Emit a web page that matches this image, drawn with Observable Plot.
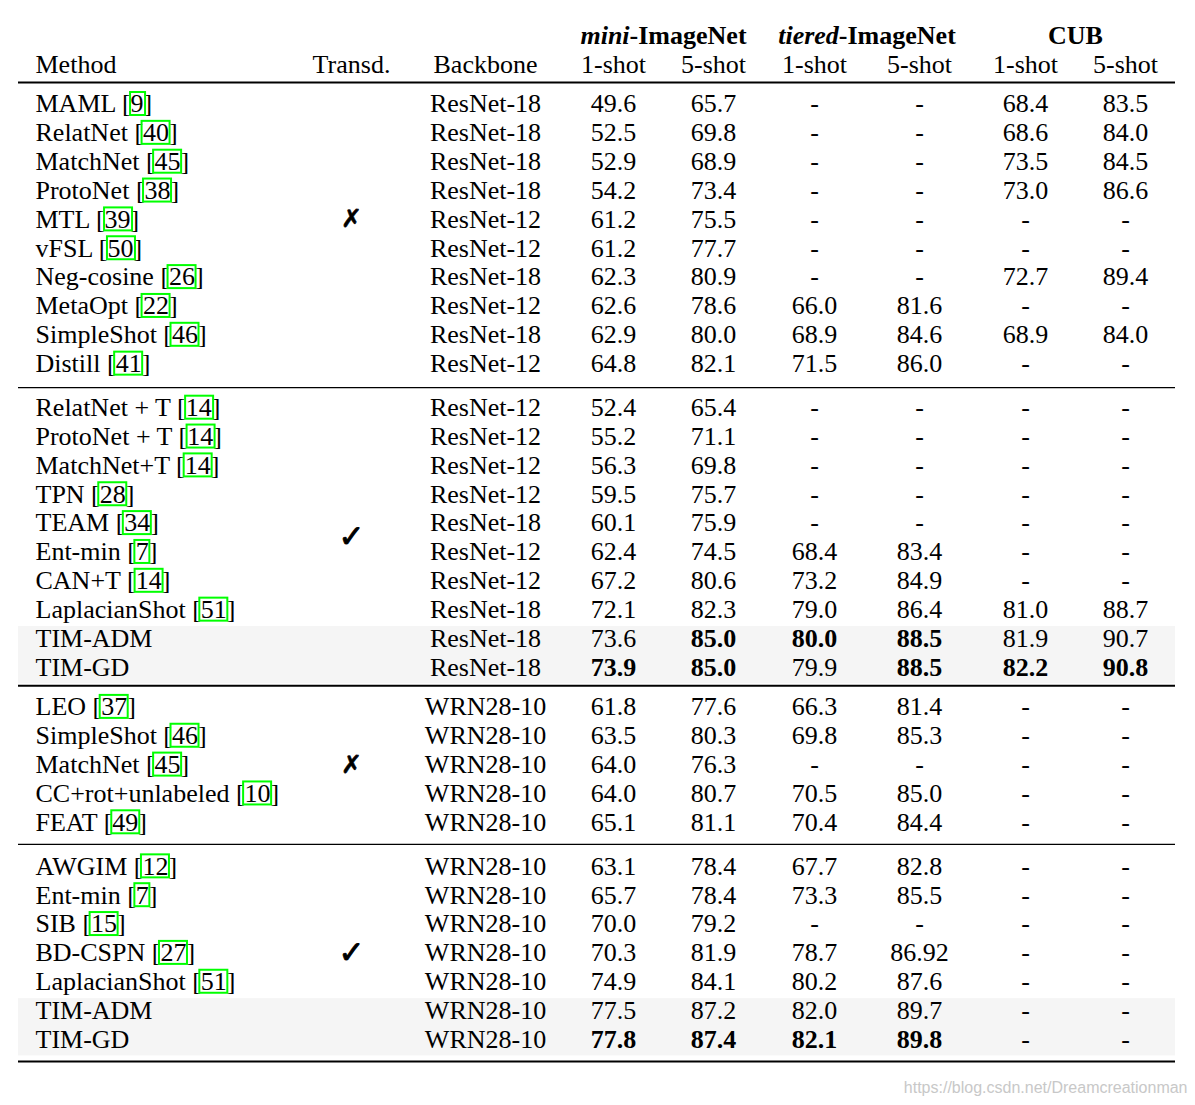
<!DOCTYPE html>
<html><head><meta charset="utf-8">
<script src="https://cdn.jsdelivr.net/npm/d3@7"></script>
<script src="https://cdn.jsdelivr.net/npm/@observablehq/plot@0.6"></script>
<style>body{margin:0;background:#fff}#chart{width:1195px;height:1105px}</style>
</head><body><div id="chart"></div>
<script>
// ---------------- data ----------------
const columns = ["mini1", "mini5", "tiered1", "tiered5", "cub1", "cub5"];
const shotLabels = ["1-shot", "5-shot", "1-shot", "5-shot", "1-shot", "5-shot"];
const datasetLabels = [
  {italic: "mini", rest: "-ImageNet"},
  {italic: "tiered", rest: "-ImageNet"},
  {italic: "", rest: "CUB"}
];

// Section 1: ResNet, inductive
const s1Methods = ["MAML", "RelatNet", "MatchNet", "ProtoNet", "MTL", "vFSL", "Neg-cosine", "MetaOpt", "SimpleShot", "Distill"];
const s1Cites = [9, 40, 45, 38, 39, 50, 26, 22, 46, 41];
const s1Backbones = ["ResNet-18", "ResNet-18", "ResNet-18", "ResNet-18", "ResNet-12", "ResNet-12", "ResNet-18", "ResNet-12", "ResNet-18", "ResNet-12"];
const s1Mini1 = [49.6, 52.5, 52.9, 54.2, 61.2, 61.2, 62.3, 62.6, 62.9, 64.8];
const s1Mini5 = [65.7, 69.8, 68.9, 73.4, 75.5, 77.7, 80.9, 78.6, 80.0, 82.1];
const s1Tiered1 = [null, null, null, null, null, null, null, 66.0, 68.9, 71.5];
const s1Tiered5 = [null, null, null, null, null, null, null, 81.6, 84.6, 86.0];
const s1Cub1 = [68.4, 68.6, 73.5, 73.0, null, null, 72.7, null, 68.9, null];
const s1Cub5 = [83.5, 84.0, 84.5, 86.6, null, null, 89.4, null, 84.0, null];

// Section 2: ResNet, transductive
const s2Methods = ["RelatNet + T", "ProtoNet + T", "MatchNet+T", "TPN", "TEAM", "Ent-min", "CAN+T", "LaplacianShot", "TIM-ADM", "TIM-GD"];
const s2Cites = [14, 14, 14, 28, 34, 7, 14, 51, null, null];
const s2Backbones = ["ResNet-12", "ResNet-12", "ResNet-12", "ResNet-12", "ResNet-18", "ResNet-12", "ResNet-12", "ResNet-18", "ResNet-18", "ResNet-18"];
const s2Mini1 = [52.4, 55.2, 56.3, 59.5, 60.1, 62.4, 67.2, 72.1, 73.6, 73.9];
const s2Mini5 = [65.4, 71.1, 69.8, 75.7, 75.9, 74.5, 80.6, 82.3, 85.0, 85.0];
const s2Tiered1 = [null, null, null, null, null, 68.4, 73.2, 79.0, 80.0, 79.9];
const s2Tiered5 = [null, null, null, null, null, 83.4, 84.9, 86.4, 88.5, 88.5];
const s2Cub1 = [null, null, null, null, null, null, null, 81.0, 81.9, 82.2];
const s2Cub5 = [null, null, null, null, null, null, null, 88.7, 90.7, 90.8];

// Section 3: WRN28-10, inductive
const s3Methods = ["LEO", "SimpleShot", "MatchNet", "CC+rot+unlabeled", "FEAT"];
const s3Cites = [37, 46, 45, 10, 49];
const s3Backbones = ["WRN28-10", "WRN28-10", "WRN28-10", "WRN28-10", "WRN28-10"];
const s3Mini1 = [61.8, 63.5, 64.0, 64.0, 65.1];
const s3Mini5 = [77.6, 80.3, 76.3, 80.7, 81.1];
const s3Tiered1 = [66.3, 69.8, null, 70.5, 70.4];
const s3Tiered5 = [81.4, 85.3, null, 85.0, 84.4];
const s3Cub1 = [null, null, null, null, null];
const s3Cub5 = [null, null, null, null, null];

// Section 4: WRN28-10, transductive
const s4Methods = ["AWGIM", "Ent-min", "SIB", "BD-CSPN", "LaplacianShot", "TIM-ADM", "TIM-GD"];
const s4Cites = [12, 7, 15, 27, 51, null, null];
const s4Backbones = ["WRN28-10", "WRN28-10", "WRN28-10", "WRN28-10", "WRN28-10", "WRN28-10", "WRN28-10"];
const s4Mini1 = [63.1, 65.7, 70.0, 70.3, 74.9, 77.5, 77.8];
const s4Mini5 = [78.4, 78.4, 79.2, 81.9, 84.1, 87.2, 87.4];
const s4Tiered1 = [67.7, 73.3, null, 78.7, 80.2, 82.0, 82.1];
const s4Tiered5 = [82.8, 85.5, null, 86.92, 87.6, 89.7, 89.8];
const s4Cub1 = [null, null, null, null, null, null, null];
const s4Cub5 = [null, null, null, null, null, null, null];

const sectionTransductive = [false, true, false, true];
const sectionBackboneFamily = ["ResNet", "ResNet", "WRN", "WRN"];
const oursMethods = ["TIM-ADM", "TIM-GD"];
const watermark = "https://blog.csdn.net/Dreamcreationman";

// ---------------- layout ----------------
const W = 1195, H = 1105;
const FONT = "'Liberation Serif', 'Times New Roman', Times, serif";
const FS = 26;
const colX = {method: 35, transd: 351, backbone: 485, mini1: 613, mini5: 713, tiered1: 814, tiered5: 919, cub1: 1025, cub5: 1125};
const tableX1 = 18, tableX2 = 1175;
const headerY1 = 35, headerY2 = 64, topRuleY = 82;
const firstRowY = 103.5, rowStep = 28.85;
const extraGapBefore = [0, 15.2, 10.7, 15.2];
const ruleOffsetAfter = [24, 18.5, 22, 22];
const ruleWidthAfter = [1.3, 2, 1.3, 2];
const markRowInSection = [4, 4.5, 2, 3];

const sections = [
  {methods: s1Methods, cites: s1Cites, backbones: s1Backbones, vals: [s1Mini1, s1Mini5, s1Tiered1, s1Tiered5, s1Cub1, s1Cub5]},
  {methods: s2Methods, cites: s2Cites, backbones: s2Backbones, vals: [s2Mini1, s2Mini5, s2Tiered1, s2Tiered5, s2Cub1, s2Cub5]},
  {methods: s3Methods, cites: s3Cites, backbones: s3Backbones, vals: [s3Mini1, s3Mini5, s3Tiered1, s3Tiered5, s3Cub1, s3Cub5]},
  {methods: s4Methods, cites: s4Cites, backbones: s4Backbones, vals: [s4Mini1, s4Mini5, s4Tiered1, s4Tiered5, s4Cub1, s4Cub5]}
];

// text measurement
const ctx = document.createElement("canvas").getContext("2d");
function tw(str, weight = "normal", style = "normal", size = FS) {
  ctx.font = `${style} ${weight} ${size}px ${FONT}`;
  return ctx.measureText(str).width;
}

// build rows
const rows = [];
const rules = [{y: topRuleY, w: 2}];
const transdMarks = [];
let g = 0, extra = 0;
sections.forEach((s, si) => {
  extra += extraGapBefore[si];
  const startIdx = g;
  s.methods.forEach((m, i) => {
    const y = firstRowY + g * rowStep + extra;
    const r = {section: si, i, method: m, cite: s.cites[i], backbone: s.backbones[i], y, ours: oursMethods.includes(m)};
    columns.forEach((c, ci) => r[c] = s.vals[ci][i]);
    rows.push(r);
    g++;
  });
  const lastY = rows[rows.length - 1].y;
  rules.push({y: lastY + ruleOffsetAfter[si], w: ruleWidthAfter[si]});
  transdMarks.push({y: firstRowY + (startIdx + markRowInSection[si]) * rowStep + extra, t: sectionTransductive[si]});
});

// bold = best value of the column within same backbone family
const best = {};
for (const fam of ["ResNet", "WRN"]) {
  const rs = rows.filter(r => sectionBackboneFamily[r.section] === fam);
  best[fam] = {};
  columns.forEach(c => best[fam][c] = d3.max(rs, r => r[c]));
}
const fmt = v => v == null ? "-" : (Math.round(v * 10) === v * 10 ? v.toFixed(1) : String(v));
const cells = [];
rows.forEach(r => columns.forEach(c => {
  const v = r[c];
  cells.push({x: colX[c], y: r.y, text: fmt(v), bold: v != null && v === best[sectionBackboneFamily[r.section]][c]});
}));

// shaded blocks for "ours"
const shades = [];
d3.group(rows.filter(r => r.ours), r => r.section).forEach(rs => {
  shades.push({y1: d3.min(rs, r => r.y) - 12, y2: d3.max(rs, r => r.y) + 16.5});
});

// citation boxes
const citeRows = rows.filter(r => r.cite != null);
const boxes = citeRows.map(r => {
  const pre = tw(`${r.method} [`);
  const num = tw(String(r.cite));
  return {x1: colX.method + pre - 1, x2: colX.method + pre + num + 1, y1: r.y - 11.5, y2: r.y + 11.5};
});

// header dataset labels
const groupHeads = [];
datasetLabels.forEach((d, i) => {
  const cx = (colX[columns[2 * i]] + colX[columns[2 * i + 1]]) / 2;
  const wi = d.italic ? tw(d.italic, "bold", "italic") : 0;
  const wr = tw(d.rest, "bold");
  const start = cx - (wi + wr) / 2;
  if (d.italic) groupHeads.push({x: start, text: d.italic, italic: true});
  groupHeads.push({x: start + wi, text: d.rest, italic: false});
});

const headers2 = [
  {x: colX.method, text: "Method", anchor: "start"},
  {x: colX.transd, text: "Transd.", anchor: "middle"},
  {x: colX.backbone, text: "Backbone", anchor: "middle"},
  ...columns.map((c, i) => ({x: colX[c], text: shotLabels[i], anchor: "middle"}))
];

const common = {fontFamily: FONT, fontSize: FS, fill: "#000", lineAnchor: "middle"};

const chart = Plot.plot({
  width: W, height: H,
  margin: 0,
  x: {type: "linear", domain: [0, W], range: [0, W], axis: null},
  y: {type: "linear", domain: [0, H], range: [0, H], axis: null},
  style: {background: "#fff"},
  marks: [
    Plot.rect(shades, {x1: () => tableX1, x2: () => tableX2, y1: "y1", y2: "y2", fill: "#f5f5f5"}),
    Plot.ruleY(rules, {y: "y", x1: () => tableX1, x2: () => tableX2, stroke: "#000", strokeWidth: d => d.w}),
    Plot.text(groupHeads.filter(d => d.italic), {x: "x", y: () => headerY1, text: "text", textAnchor: "start", fontWeight: "bold", fontStyle: "italic", ...common}),
    Plot.text(groupHeads.filter(d => !d.italic), {x: "x", y: () => headerY1, text: "text", textAnchor: "start", fontWeight: "bold", ...common}),
    Plot.text(headers2.filter(d => d.anchor === "start"), {x: "x", y: () => headerY2, text: "text", textAnchor: "start", ...common}),
    Plot.text(headers2.filter(d => d.anchor === "middle"), {x: "x", y: () => headerY2, text: "text", textAnchor: "middle", ...common}),
    Plot.text(rows, {x: () => colX.method, y: "y", text: r => r.cite != null ? `${r.method} [${r.cite}]` : r.method, textAnchor: "start", ...common}),
    Plot.rect(boxes, {x1: "x1", x2: "x2", y1: "y1", y2: "y2", fill: "none", stroke: "#00ff00", strokeWidth: 2}),
    Plot.text(rows, {x: () => colX.backbone, y: "y", text: "backbone", textAnchor: "middle", ...common}),
    Plot.text(cells.filter(d => !d.bold), {x: "x", y: "y", text: "text", textAnchor: "middle", ...common}),
    Plot.text(cells.filter(d => d.bold), {x: "x", y: "y", text: "text", textAnchor: "middle", fontWeight: "bold", ...common}),
    Plot.text(transdMarks.filter(d => !d.t), {x: () => colX.transd, y: "y", text: () => "\u2717", textAnchor: "middle", lineAnchor: "middle", fontFamily: "DejaVu Sans", fontSize: 25, fill: "#000", stroke: "#000", strokeWidth: 0.6}),
    Plot.text(transdMarks.filter(d => d.t), {x: () => colX.transd, y: "y", text: () => "\u2713", textAnchor: "middle", lineAnchor: "middle", fontFamily: "DejaVu Sans", fontSize: 31, fill: "#000", stroke: "#000", strokeWidth: 0.9}),
    Plot.text([watermark], {x: () => 1187, y: () => 1087, text: d => d, textAnchor: "end", lineAnchor: "middle", fontFamily: "'Liberation Sans', Arial, sans-serif", fontSize: 16, fill: "#c8c8c8"})
  ]
});
document.getElementById("chart").appendChild(chart);
</script>
</body></html>
